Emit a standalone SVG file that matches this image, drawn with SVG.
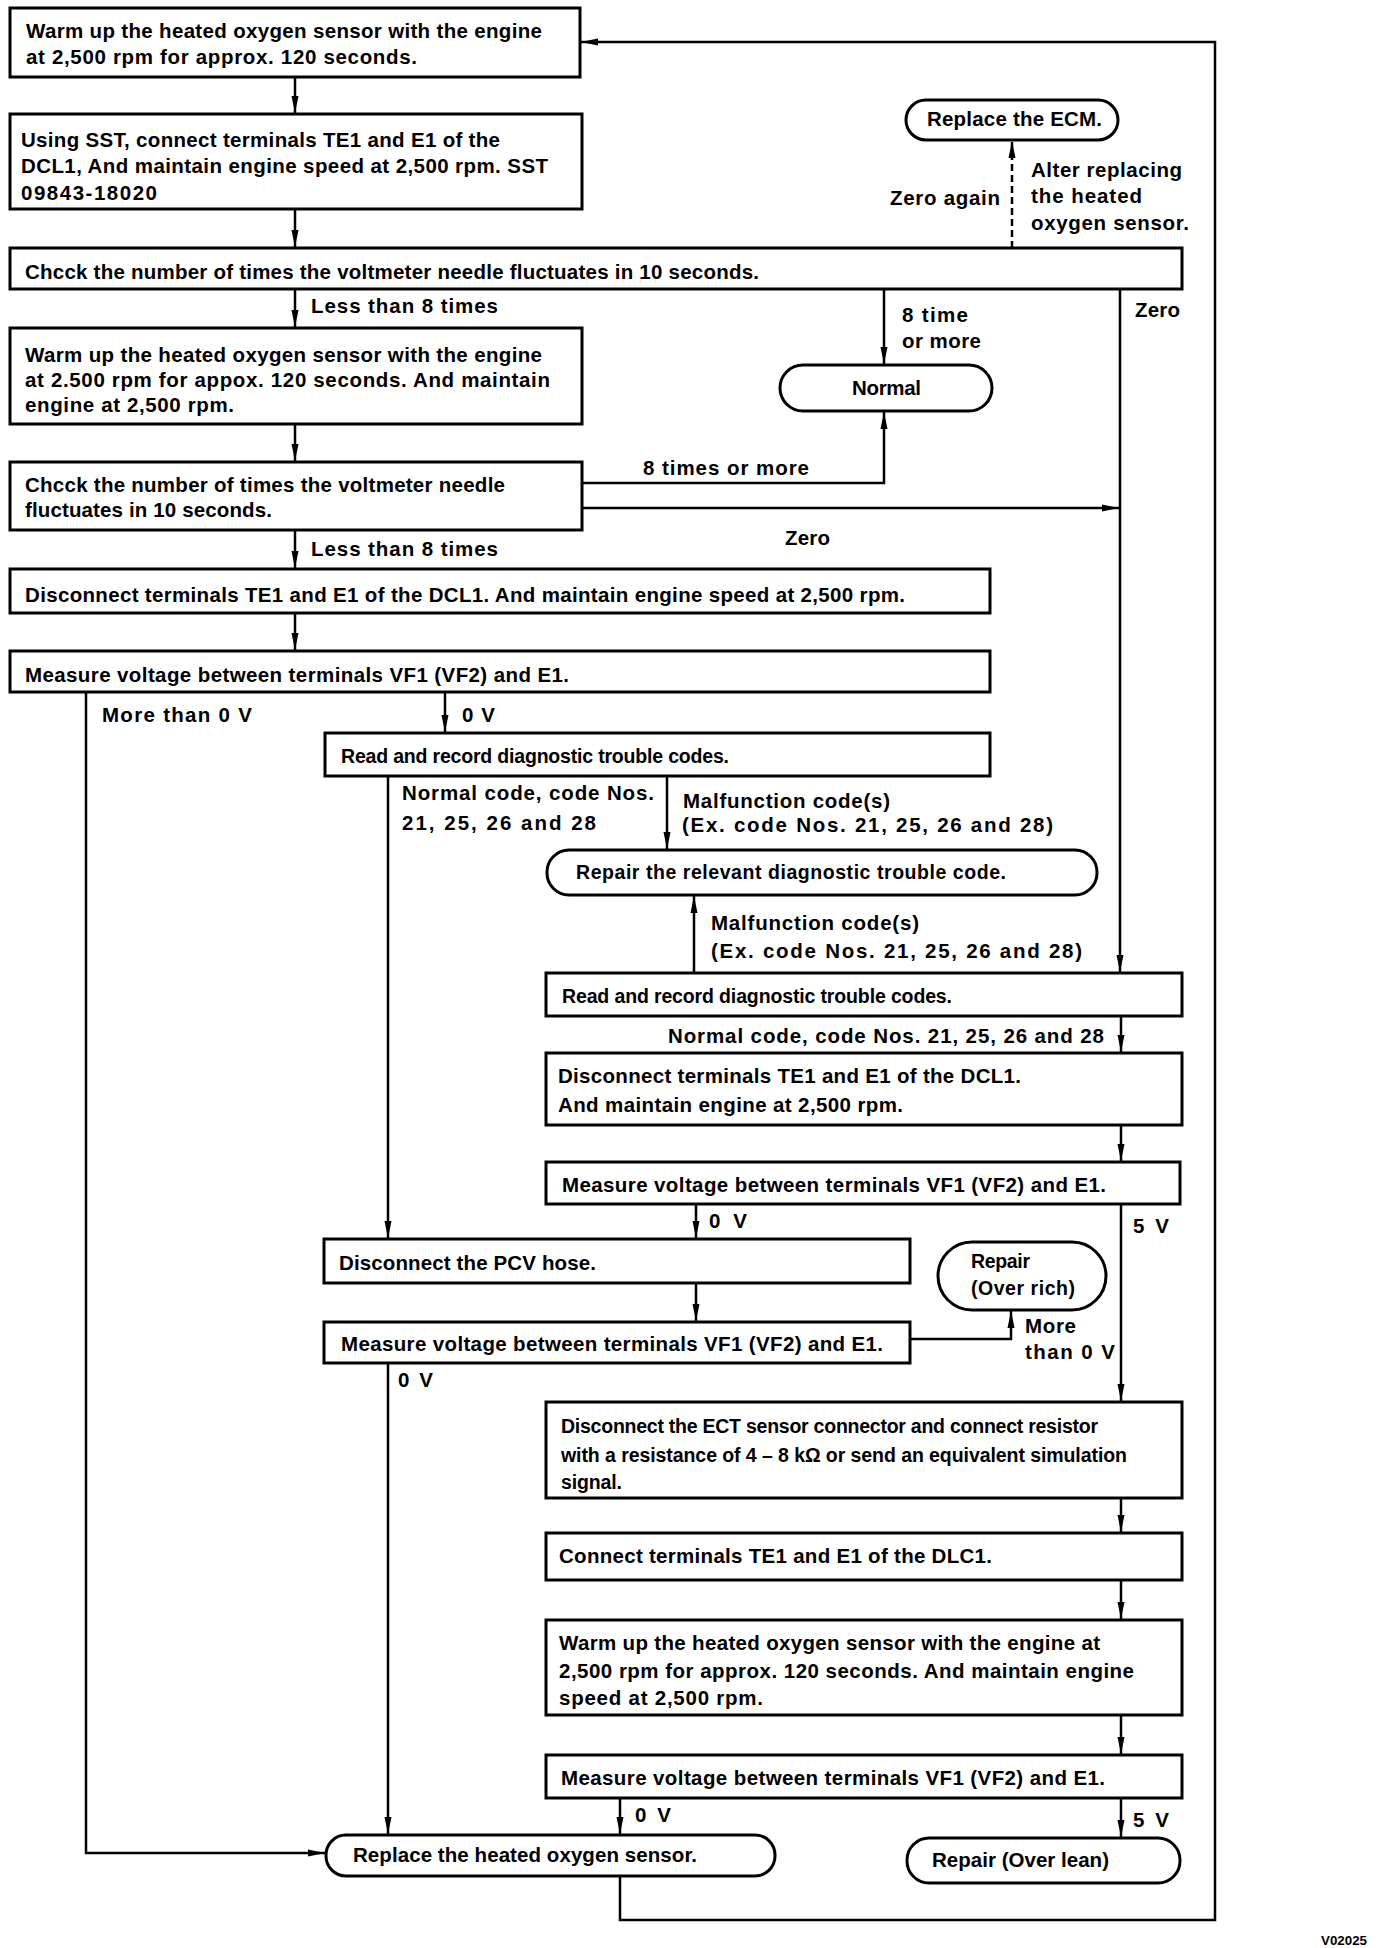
<svg xmlns="http://www.w3.org/2000/svg" width="1376" height="1948" viewBox="0 0 1376 1948">
<defs>
<style>
.box{fill:#fff;stroke:#000;stroke-width:3}
.t{font-family:"Liberation Sans",Arial,sans-serif;font-weight:bold;font-size:20.5px;fill:#000}
.c{font-family:"Liberation Sans",Arial,sans-serif;font-weight:bold;font-size:19.5px;fill:#000}
.ln{fill:none;stroke:#000;stroke-width:2.5}
.dash{fill:none;stroke:#000;stroke-width:2.5;stroke-dasharray:7 4}
</style>
<marker id="ah" markerUnits="userSpaceOnUse" markerWidth="18" markerHeight="10" viewBox="0 0 18 10" refX="17" refY="5" orient="auto">
<path d="M0,1.5 L17,5 L0,8.5 z" fill="#000"/>
</marker>
</defs>
<rect width="1376" height="1948" fill="#fff"/>

<g id="connectors">
<path class="ln" d="M295,77 V113" marker-end="url(#ah)"/>
<path class="ln" d="M295,209 V247" marker-end="url(#ah)"/>
<path class="ln" d="M295,289 V327" marker-end="url(#ah)"/>
<path class="ln" d="M295,424 V461" marker-end="url(#ah)"/>
<path class="ln" d="M295,530 V568" marker-end="url(#ah)"/>
<path class="ln" d="M295,613 V650" marker-end="url(#ah)"/>
<path class="dash" d="M1012,248 V141" marker-end="url(#ah)"/>
<path class="ln" d="M884,289 V364" marker-end="url(#ah)"/>
<path class="ln" d="M582,483 H884 V412" marker-end="url(#ah)"/>
<path class="ln" d="M582,508 H1119" marker-end="url(#ah)"/>
<path class="ln" d="M1120,289 V972" marker-end="url(#ah)"/>
<path class="ln" d="M445,692 V732" marker-end="url(#ah)"/>
<path class="ln" d="M86,692 V1853 H325" marker-end="url(#ah)"/>
<path class="ln" d="M388,776 V1238" marker-end="url(#ah)"/>
<path class="ln" d="M667,776 V849" marker-end="url(#ah)"/>
<path class="ln" d="M694,973 V896" marker-end="url(#ah)"/>
<path class="ln" d="M1121,1016 V1052" marker-end="url(#ah)"/>
<path class="ln" d="M1121,1125 V1161" marker-end="url(#ah)"/>
<path class="ln" d="M696,1204 V1238" marker-end="url(#ah)"/>
<path class="ln" d="M1121,1204 V1401" marker-end="url(#ah)"/>
<path class="ln" d="M696,1283 V1321" marker-end="url(#ah)"/>
<path class="ln" d="M910,1339 H1011 V1311" marker-end="url(#ah)"/>
<path class="ln" d="M388,1363 V1834" marker-end="url(#ah)"/>
<path class="ln" d="M1121,1498 V1532" marker-end="url(#ah)"/>
<path class="ln" d="M1121,1580 V1619" marker-end="url(#ah)"/>
<path class="ln" d="M1121,1715 V1754" marker-end="url(#ah)"/>
<path class="ln" d="M620,1798 V1834" marker-end="url(#ah)"/>
<path class="ln" d="M1121,1798 V1837" marker-end="url(#ah)"/>
<path class="ln" d="M620,1876 V1920 H1215 V42 H581" marker-end="url(#ah)"/>
</g>

<g id="labels">
<text class="t" x="311" y="313" textLength="187" lengthAdjust="spacing">Less than 8 times</text>
<text class="t" x="311" y="556" textLength="187" lengthAdjust="spacing">Less than 8 times</text>
<text class="t" x="902" y="322" textLength="66" lengthAdjust="spacing">8 time</text>
<text class="t" x="902" y="348" textLength="79" lengthAdjust="spacing">or more</text>
<text class="t" x="1135" y="317" textLength="45" lengthAdjust="spacing">Zero</text>
<text class="t" x="643" y="475" textLength="166" lengthAdjust="spacing">8 times or more</text>
<text class="t" x="785" y="545" textLength="45" lengthAdjust="spacing">Zero</text>
<text class="t" x="890" y="205" textLength="110" lengthAdjust="spacing">Zero again</text>
<text class="t" x="1031" y="177" textLength="151" lengthAdjust="spacing">Alter replacing</text>
<text class="t" x="1031" y="203" textLength="111" lengthAdjust="spacing">the heated</text>
<text class="t" x="1031" y="230" textLength="158" lengthAdjust="spacing">oxygen sensor.</text>
<text class="t" x="102" y="722" textLength="150" lengthAdjust="spacing">More than 0 V</text>
<text class="t" x="462" y="722" textLength="33" lengthAdjust="spacing">0 V</text>
<text class="t" x="402" y="800" textLength="252" lengthAdjust="spacing">Normal code, code Nos.</text>
<text class="t" x="402" y="830" textLength="194" lengthAdjust="spacing">21, 25, 26 and 28</text>
<text class="t" x="683" y="808" textLength="207" lengthAdjust="spacing">Malfunction code(s)</text>
<text class="t" x="682" y="832" textLength="371" lengthAdjust="spacing">(Ex. code Nos. 21, 25, 26 and 28)</text>
<text class="t" x="711" y="930" textLength="208" lengthAdjust="spacing">Malfunction code(s)</text>
<text class="t" x="711" y="958" textLength="371" lengthAdjust="spacing">(Ex. code Nos. 21, 25, 26 and 28)</text>
<text class="t" x="668" y="1043" textLength="436" lengthAdjust="spacing">Normal code, code Nos. 21, 25, 26 and 28</text>
<text class="t" x="709" y="1228" textLength="38" lengthAdjust="spacing">0 V</text>
<text class="t" x="1133" y="1233" textLength="36" lengthAdjust="spacing">5 V</text>
<text class="t" x="1025" y="1333" textLength="51" lengthAdjust="spacing">More</text>
<text class="t" x="1025" y="1359" textLength="90" lengthAdjust="spacing">than 0 V</text>
<text class="t" x="398" y="1387" textLength="35" lengthAdjust="spacing">0 V</text>
<text class="t" x="635" y="1822" textLength="36" lengthAdjust="spacing">0 V</text>
<text class="t" x="1133" y="1827" textLength="36" lengthAdjust="spacing">5 V</text>
<text class="c" x="1321" y="1945" style="font-size:13px" textLength="46" lengthAdjust="spacingAndGlyphs">V02025</text>
</g>

<g id="n1"><rect class="box" x="10" y="8" width="570" height="69"/>
<text class="t" x="26" y="38" textLength="516" lengthAdjust="spacing">Warm up the heated oxygen sensor with the engine</text>
<text class="t" x="26" y="64" textLength="391" lengthAdjust="spacing">at 2,500 rpm for approx. 120 seconds.</text></g>

<g id="n2"><rect class="box" x="10" y="114" width="572" height="95"/>
<text class="t" x="21" y="147" textLength="479" lengthAdjust="spacing">Using SST, connect terminals TE1 and E1 of the</text>
<text class="t" x="21" y="173" textLength="527" lengthAdjust="spacing">DCL1, And maintain engine speed at 2,500 rpm. SST</text>
<text class="t" x="21" y="200" textLength="136" lengthAdjust="spacing">09843-18020</text></g>

<g id="n3"><rect class="box" x="10" y="248" width="1172" height="41"/>
<text class="t" x="25" y="279" textLength="734" lengthAdjust="spacing">Chcck the number of times the voltmeter needle fluctuates in 10 seconds.</text></g>

<g id="ecm"><rect class="box" x="906" y="100" width="212" height="40" rx="20"/>
<text class="t" x="927" y="126" textLength="175" lengthAdjust="spacing">Replace the ECM.</text></g>

<g id="n4"><rect class="box" x="10" y="328" width="572" height="96"/>
<text class="t" x="25" y="362" textLength="517" lengthAdjust="spacing">Warm up the heated oxygen sensor with the engine</text>
<text class="t" x="25" y="387" textLength="525" lengthAdjust="spacing">at 2.500 rpm for appox. 120 seconds. And maintain</text>
<text class="t" x="25" y="412" textLength="209" lengthAdjust="spacing">engine at 2,500 rpm.</text></g>

<g id="normal"><rect class="box" x="780" y="365" width="212" height="46" rx="23"/>
<text class="t" x="852" y="395" textLength="69" lengthAdjust="spacing">Normal</text></g>

<g id="n5"><rect class="box" x="10" y="462" width="572" height="68"/>
<text class="t" x="25" y="492" textLength="480" lengthAdjust="spacing">Chcck the number of times the voltmeter needle</text>
<text class="t" x="25" y="517" textLength="247" lengthAdjust="spacing">fluctuates in 10 seconds.</text></g>

<g id="n6"><rect class="box" x="10" y="569" width="980" height="44"/>
<text class="t" x="25" y="602" textLength="880" lengthAdjust="spacing">Disconnect terminals TE1 and E1 of the DCL1. And maintain engine speed at 2,500 rpm.</text></g>

<g id="n7"><rect class="box" x="10" y="651" width="980" height="41"/>
<text class="t" x="25" y="682" textLength="544" lengthAdjust="spacing">Measure voltage between terminals VF1 (VF2) and E1.</text></g>

<g id="n8"><rect class="box" x="325" y="733" width="665" height="43"/>
<text class="c" x="341" y="763" textLength="388" lengthAdjust="spacing">Read and record diagnostic trouble codes.</text></g>

<g id="repair-dtc"><rect class="box" x="547" y="850" width="550" height="45" rx="22"/>
<text class="c" x="576" y="879" textLength="430" lengthAdjust="spacing">Repair the relevant diagnostic trouble code.</text></g>

<g id="n9"><rect class="box" x="546" y="973" width="636" height="43"/>
<text class="c" x="562" y="1003" textLength="390" lengthAdjust="spacing">Read and record diagnostic trouble codes.</text></g>

<g id="n10"><rect class="box" x="546" y="1053" width="636" height="72"/>
<text class="t" x="558" y="1083" textLength="463" lengthAdjust="spacing">Disconnect terminals TE1 and E1 of the DCL1.</text>
<text class="t" x="558" y="1112" textLength="345" lengthAdjust="spacing">And maintain engine at 2,500 rpm.</text></g>

<g id="n11"><rect class="box" x="546" y="1162" width="634" height="42"/>
<text class="t" x="562" y="1192" textLength="544" lengthAdjust="spacing">Measure voltage between terminals VF1 (VF2) and E1.</text></g>

<g id="pcv"><rect class="box" x="324" y="1239" width="586" height="44"/>
<text class="t" x="339" y="1270" textLength="257" lengthAdjust="spacing">Disconnect the PCV hose.</text></g>

<g id="overrich"><rect class="box" x="938" y="1242" width="168" height="68" rx="34"/>
<text class="c" x="971" y="1268" textLength="59" lengthAdjust="spacing">Repair</text>
<text class="c" x="971" y="1295" textLength="104" lengthAdjust="spacing">(Over rich)</text></g>

<g id="n13"><rect class="box" x="324" y="1322" width="586" height="41"/>
<text class="t" x="341" y="1351" textLength="542" lengthAdjust="spacing">Measure voltage between terminals VF1 (VF2) and E1.</text></g>

<g id="n12"><rect class="box" x="546" y="1402" width="636" height="96"/>
<text class="c" x="561" y="1433" textLength="537" lengthAdjust="spacing">Disconnect the ECT sensor connector and connect resistor</text>
<text class="c" x="561" y="1462" textLength="566" lengthAdjust="spacing">with a resistance of 4 – 8 kΩ or send an equivalent simulation</text>
<text class="c" x="561" y="1489" textLength="61" lengthAdjust="spacing">signal.</text></g>

<g id="n14"><rect class="box" x="546" y="1533" width="636" height="47"/>
<text class="t" x="559" y="1563" textLength="433" lengthAdjust="spacing">Connect terminals TE1 and E1 of the DLC1.</text></g>

<g id="n15"><rect class="box" x="546" y="1620" width="636" height="95"/>
<text class="t" x="559" y="1650" textLength="541" lengthAdjust="spacing">Warm up the heated oxygen sensor with the engine at</text>
<text class="t" x="559" y="1678" textLength="575" lengthAdjust="spacing">2,500 rpm for approx. 120 seconds. And maintain engine</text>
<text class="t" x="559" y="1705" textLength="204" lengthAdjust="spacing">speed at 2,500 rpm.</text></g>

<g id="n16"><rect class="box" x="546" y="1755" width="636" height="43"/>
<text class="t" x="561" y="1785" textLength="544" lengthAdjust="spacing">Measure voltage between terminals VF1 (VF2) and E1.</text></g>

<g id="replace-o2"><rect class="box" x="326" y="1835" width="449" height="41" rx="20"/>
<text class="t" x="353" y="1862" textLength="344" lengthAdjust="spacing">Replace the heated oxygen sensor.</text></g>

<g id="overlean"><rect class="box" x="907" y="1838" width="273" height="45" rx="22"/>
<text class="t" x="932" y="1867" textLength="177" lengthAdjust="spacing">Repair (Over lean)</text></g>
</svg>
